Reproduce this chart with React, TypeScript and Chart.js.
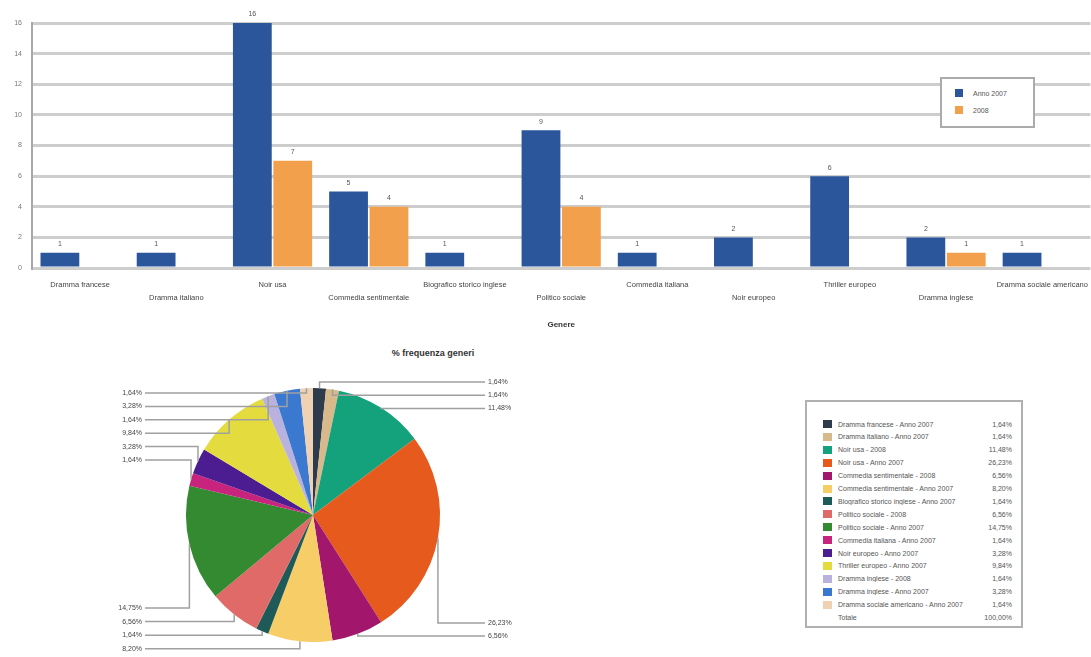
import React, { useEffect, useRef } from 'react';
import { Chart, registerables } from 'chart.js';
Chart.register(...registerables);

const categories = [
  'Dramma francese',
  'Dramma italiano',
  'Noir usa',
  'Commedia sentimentale',
  'Biografico storico inglese',
  'Politico sociale',
  'Commedia italiana',
  'Noir europeo',
  'Thriller europeo',
  'Dramma inglese',
  'Dramma sociale americano',
];
const seriesNames = ['Anno 2007', '2008'];
const values2007 = [1, 1, 16, 5, 1, 9, 1, 2, 6, 2, 1];
const values2008 = [0, 0, 7, 4, 0, 4, 0, 0, 0, 1, 0];
const yTicks = [0, 2, 4, 6, 8, 10, 12, 14, 16];
const xTitle = 'Genere';
const pieTitle = '% frequenza generi';
const totalLabel = 'Totale';

const barColors = ['#2c569c', '#f2a04c'];
const pieColors = [
  '#2e3b4c', '#d8b98c', '#14a27c', '#e65a1e', '#a2176c',
  '#f6cd66', '#1e5a58', '#e06a68', '#338a30', '#c8247e',
  '#4b1d90', '#e4dc3e', '#b9b2de', '#3b78cf', '#efd2b4',
];

// pie slices derived from the bar series (2008 first, then 2007 for each genre)
const pieLabels: string[] = [];
const pieValues: number[] = [];
categories.forEach((c, i) => {
  if (values2008[i] > 0) { pieLabels.push(c + ' - ' + seriesNames[1]); pieValues.push(values2008[i]); }
  if (values2007[i] > 0) { pieLabels.push(c + ' - ' + seriesNames[0]); pieValues.push(values2007[i]); }
});
const pieTotal = pieValues.reduce((a, b) => a + b, 0);
const fmtPct = (v: number) => ((v / pieTotal) * 100).toFixed(2).replace('.', ',') + '%';

const FONT = '"Liberation Sans", Arial, sans-serif';

const barValuePlugin = {
  id: 'barValues',
  afterDatasetsDraw(chart: any) {
    const ctx = chart.ctx;
    ctx.save();
    ctx.font = '7px ' + FONT;
    ctx.fillStyle = '#555';
    ctx.textAlign = 'center';
    ctx.textBaseline = 'bottom';
    chart.data.datasets.forEach((ds: any, di: number) => {
      const meta = chart.getDatasetMeta(di);
      meta.data.forEach((bar: any, i: number) => {
        const v = ds.data[i];
        if (!v) return;
        ctx.fillText(String(v), bar.x, bar.y - 5);
      });
    });
    ctx.restore();
  },
};

const pieLabelPlugin = {
  id: 'pieLabels',
  afterDatasetsDraw(chart: any) {
    const ctx = chart.ctx;
    const meta = chart.getDatasetMeta(0);
    const data = chart.data.datasets[0].data as number[];
    const items = meta.data.map((arc: any, i: number) => {
      const p = arc.getProps(['x', 'y', 'startAngle', 'endAngle', 'outerRadius'], true);
      const mid = (p.startAngle + p.endAngle) / 2;
      return {
        i, mid, cx: p.x, cy: p.y, r: p.outerRadius,
        px: p.x + Math.cos(mid) * p.outerRadius,
        py: p.y + Math.sin(mid) * p.outerRadius,
        right: Math.cos(mid) > 0,
        top: Math.sin(mid) < 0,
        text: fmtPct(data[i]),
      };
    });
    if (!items.length) return;
    const cx = items[0].cx, cy = items[0].cy, r = items[0].r;
    const place = (list: any[], startY: number, step: number) => list.forEach((it, k) => { it.ly = startY + k * step; });
    const tr = items.filter((it: any) => it.right && it.top).sort((a: any, b: any) => a.mid - b.mid);
    const tl = items.filter((it: any) => !it.right && it.top).sort((a: any, b: any) => b.mid - a.mid);
    const br = items.filter((it: any) => it.right && !it.top).sort((a: any, b: any) => a.mid - b.mid);
    const bl = items.filter((it: any) => !it.right && !it.top).sort((a: any, b: any) => b.mid - a.mid);
    place(tr, cy - r - 6, 13.2);
    place(tl, cy - r + 5, 13.4);
    place(br, cy + r - 19, 13);
    place(bl, cy + r - 34, 13.6);
    const leftX = cx - r - 44;
    const rightX = cx + r + 48;
    ctx.save();
    ctx.strokeStyle = '#a0a0a0';
    ctx.lineWidth = 1.5;
    ctx.font = '7px ' + FONT;
    ctx.fillStyle = '#444';
    ctx.textBaseline = 'middle';
    items.forEach((it: any) => {
      const ex = it.right ? rightX - 3 : leftX + 3;
      ctx.beginPath();
      ctx.moveTo(it.px, it.py);
      ctx.lineTo(it.px, it.ly);
      ctx.lineTo(ex, it.ly);
      ctx.stroke();
      ctx.textAlign = it.right ? 'left' : 'right';
      ctx.fillText(it.text, it.right ? rightX : leftX, it.ly);
    });
    ctx.restore();
  },
};

function BarChart() {
  const ref = useRef<HTMLCanvasElement>(null);
  useEffect(() => {
    if (!ref.current) return;
    const chart = new Chart(ref.current, {
      type: 'bar',
      data: {
        labels: categories,
        datasets: [
          { label: seriesNames[0], data: values2007, backgroundColor: barColors[0], categoryPercentage: 0.84, barPercentage: 0.96 },
          { label: seriesNames[1], data: values2008, backgroundColor: barColors[1], categoryPercentage: 0.84, barPercentage: 0.96 },
        ],
      },
      options: {
        responsive: false,
        animation: false,
        layout: { padding: { top: 23, right: 2, bottom: 6, left: 0 } },
        plugins: { legend: { display: false }, tooltip: { enabled: false } },
        scales: {
          x: {
            grid: { display: false, drawTicks: false },
            border: { display: false },
            ticks: {
              autoSkip: false, maxRotation: 0, minRotation: 0, padding: 10,
              color: '#444', font: { size: 7.5, family: FONT, lineHeight: 1.75 },
              callback: (_v: any, idx: number) => (idx % 2 ? ['', categories[idx]] : categories[idx]),
            },
            title: { display: true, text: xTitle, color: '#333', font: { size: 8, family: FONT, weight: 'bold' } },
            afterFit: (s: any) => { s.height = 66; },
          },
          y: {
            min: yTicks[0], max: yTicks[yTicks.length - 1],
            afterBuildTicks: (s: any) => { s.ticks = yTicks.map((v) => ({ value: v })); },
            grid: { color: '#cdcdcd', lineWidth: 3, drawTicks: false },
            border: { display: true, color: '#a8a8a8', width: 2 },
            ticks: { padding: 10, color: '#777', font: { size: 7, family: FONT } },
            afterFit: (s: any) => { s.width = 32; },
          },
        },
      },
      plugins: [barValuePlugin],
    } as any);
    return () => chart.destroy();
  }, []);
  return <canvas ref={ref} width={1098} height={340} style={{ position: 'absolute', left: 0, top: 0, width: 1098, height: 340 }} />;
}

function PieChart() {
  const ref = useRef<HTMLCanvasElement>(null);
  useEffect(() => {
    if (!ref.current) return;
    const chart = new Chart(ref.current, {
      type: 'pie',
      data: {
        labels: pieLabels,
        datasets: [{ data: pieValues, backgroundColor: pieColors, borderWidth: 0 }],
      },
      options: {
        responsive: false,
        animation: false,
        layout: { padding: { top: 28, bottom: 15, left: 86, right: 90 } },
        plugins: { legend: { display: false }, tooltip: { enabled: false } },
      },
      plugins: [pieLabelPlugin],
    } as any);
    return () => chart.destroy();
  }, []);
  return <canvas ref={ref} width={430} height={297} style={{ position: 'absolute', left: 100, top: 360, width: 430, height: 297 }} />;
}

export default function App() {
  return (
    <div style={{ position: 'absolute', left: 0, top: 0, width: 1091, height: 657, overflow: 'hidden', background: '#fff', fontFamily: FONT }}>
      <BarChart />
      {/* bar legend */}
      <div style={{ position: 'absolute', left: 940, top: 77, width: 91, height: 47, border: '2px solid #ababab', background: '#fff' }}>
        {seriesNames.map((n, i) => (
          <div key={n} style={{ position: 'absolute', left: 13, top: 9 + i * 17, height: 10, display: 'flex', alignItems: 'center', fontSize: 7, color: '#555' }}>
            <span style={{ display: 'inline-block', width: 8, height: 8, background: barColors[i], marginRight: 10 }} />
            {n}
          </div>
        ))}
      </div>
      <PieChart />
      <div style={{ position: 'absolute', left: 333, top: 348, width: 200, textAlign: 'center', fontSize: 9, fontWeight: 'bold', color: '#333' }}>{pieTitle}</div>
      {/* pie legend table */}
      <div style={{ position: 'absolute', left: 805, top: 400, width: 214, height: 224, border: '2px solid #b0b0b0', background: '#fff' }}>
        {pieLabels.map((l, i) => (
          <div key={l} style={{ position: 'absolute', left: 16, right: 9, top: 16 + i * 12.9, height: 12, display: 'flex', alignItems: 'center', fontSize: 7, color: '#555', whiteSpace: 'nowrap' }}>
            <span style={{ display: 'inline-block', width: 9, height: 8, background: pieColors[i], marginRight: 6, flex: 'none' }} />
            <span style={{ flex: 1, overflow: 'hidden' }}>{l}</span>
            <span>{fmtPct(pieValues[i])}</span>
          </div>
        ))}
        <div style={{ position: 'absolute', left: 31, right: 9, top: 16 + pieLabels.length * 12.9, height: 12, display: 'flex', alignItems: 'center', fontSize: 7, color: '#555' }}>
          <span style={{ flex: 1 }}>{totalLabel}</span>
          <span>{fmtPct(pieTotal)}</span>
        </div>
      </div>
    </div>
  );
}
